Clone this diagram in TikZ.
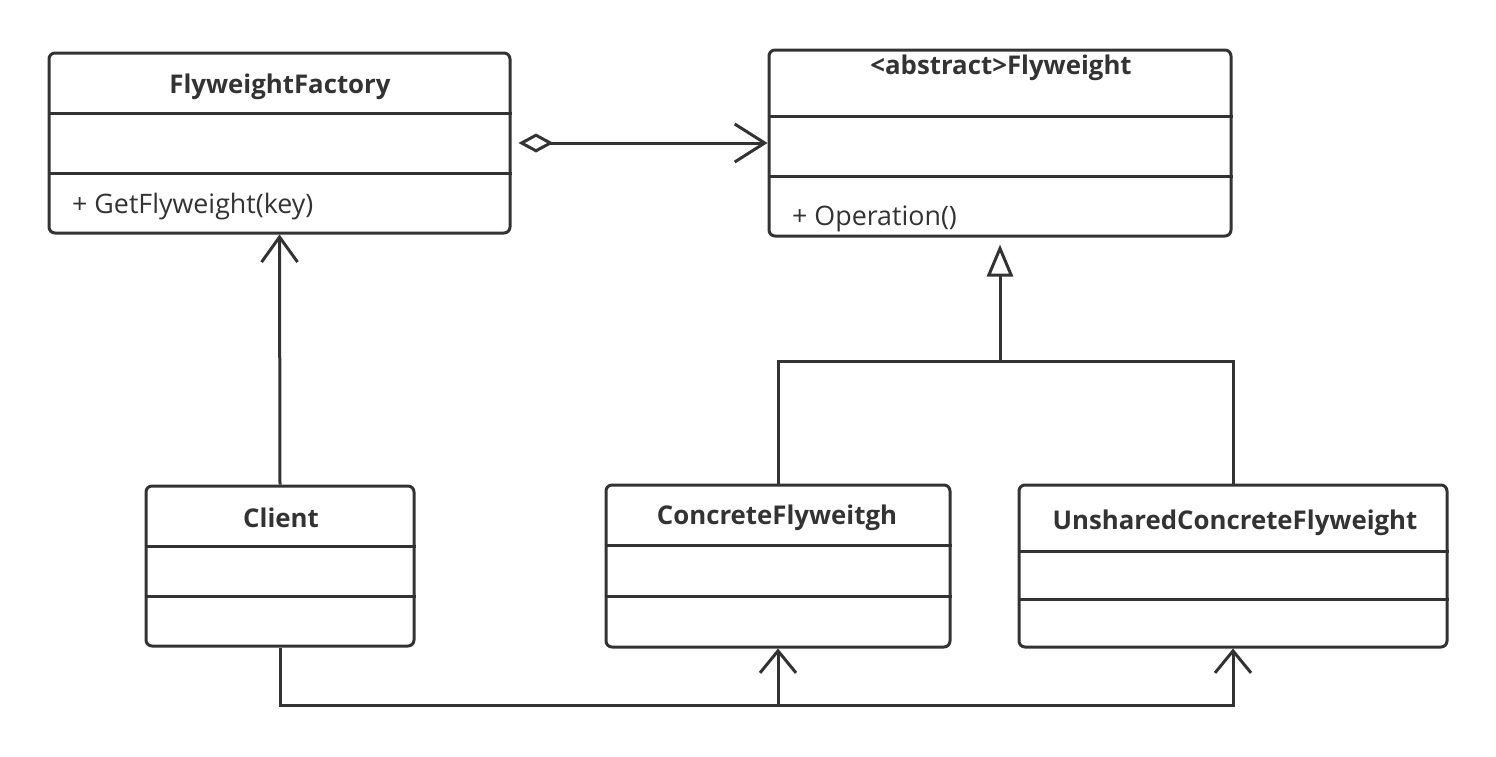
\documentclass[tikz,border=0pt]{standalone}
\usepackage{fontspec}
\setmainfont{Open Sans}
\usetikzlibrary{arrows.meta}
\definecolor{ink}{HTML}{333333}
\tikzset{
  umlbox/.style={draw=ink, line width=3pt, rounded corners=6pt, inner sep=0pt, fill=none},
  conn/.style={draw=ink, line width=3pt},
  divline/.style={draw=ink, line width=3pt},
  titletext/.style={anchor=base, inner sep=0pt, text=ink, font=\fontsize{25.8}{30}\selectfont\bfseries},
  membertext/.style={anchor=base west, inner sep=0pt, text=ink, font=\fontsize{26.8}{31}\selectfont},
  openhead/.style={-{Straight Barb[length=#1, width=36pt, line width=3pt]}},
}
\begin{document}
\begin{tikzpicture}[x=1pt, y=-1pt]
\useasboundingbox (0,0) rectangle (1496,756);
% class boxes
\node[umlbox, minimum width=461pt, minimum height=180pt] (ff) at (279.5,143) {};
\node[umlbox, minimum width=462pt, minimum height=186pt] (fw) at (1000,143) {};
\node[umlbox, minimum width=268pt, minimum height=160pt] (client) at (280,566) {};
\node[umlbox, minimum width=344pt, minimum height=162pt] (cf) at (778,566) {};
\node[umlbox, minimum width=428pt, minimum height=162pt] (ucf) at (1233,566) {};
% dividers
\draw[divline] (ff.west |- 0,113) -- (ff.east |- 0,113);
\draw[divline] (ff.west |- 0,173) -- (ff.east |- 0,173);
\draw[divline] (fw.west |- 0,116) -- (fw.east |- 0,116);
\draw[divline] (fw.west |- 0,176) -- (fw.east |- 0,176);
\draw[divline] (client.west |- 0,546) -- (client.east |- 0,546);
\draw[divline] (client.west |- 0,596) -- (client.east |- 0,596);
\draw[divline] (cf.west |- 0,545) -- (cf.east |- 0,545);
\draw[divline] (cf.west |- 0,596) -- (cf.east |- 0,596);
\draw[divline] (ucf.west |- 0,551) -- (ucf.east |- 0,551);
\draw[divline] (ucf.west |- 0,599) -- (ucf.east |- 0,599);
% texts
\node[titletext] (ffname) at (280,93) {FlyweightFactory};
\node[membertext] (ffop) at (72,213) {+ GetFlyweight(key)};
\node[titletext] (fwname) at (1001,74) {<abstract>Flyweight};
\node[membertext] (fwop) at (792,225) {+ Operation()};
\node[titletext] (clientname) at (281,527) {Client};
\node[titletext] (cfname) at (777,524) {ConcreteFlyweitgh};
\node[titletext] (ucfname) at (1235,529) {UnsharedConcreteFlyweight};
% junctions
\coordinate (gen) at (1000,361);
\coordinate (bus) at (0,705);
% aggregation
\draw[conn, {Diamond[open, length=35pt, width=19pt, line width=3pt]}-{Straight Barb[length=30pt, width=38pt, line width=3pt]}]
  ([xshift=7pt]ff.east) -- (fw.west);
% client -> factory
\draw[conn, openhead=25pt] (client.north) -- (ff.south);
% generalization
\draw[conn] (cf.north) |- (gen);
\draw[conn] (ucf.north) |- (gen);
\draw[conn, -{Triangle[open, length=32pt, width=26pt, line width=3pt]}] (gen) -- ([yshift=-7pt]fw.south);
% client -> concrete classes
\draw[conn, openhead=22pt] (client.south) |- (ucf.south |- bus) -- (ucf.south);
\draw[conn, openhead=22pt] (cf.south |- bus) -- (cf.south);
\end{tikzpicture}
\end{document}
